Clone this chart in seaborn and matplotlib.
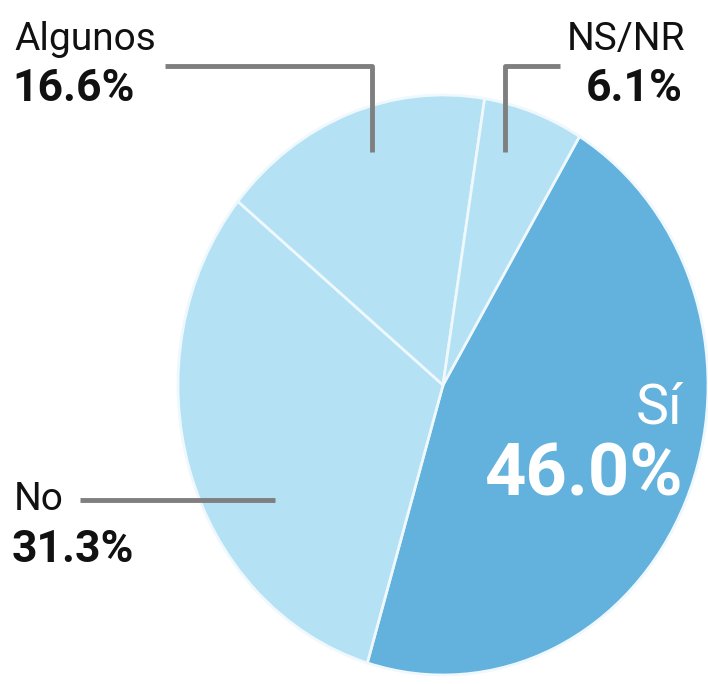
import matplotlib
matplotlib.use("Agg")
import matplotlib.pyplot as plt
import seaborn as sns

categories = ["Sí", "No", "Algunos", "NS/NR"]
values     = [46.0, 31.3, 16.6, 6.1]
colors     = ["#63b1dd", "#b4e1f4", "#b4e1f4", "#b4e1f4"]

sns.set_theme(style="white")
plt.rcParams["font.family"] = ["Roboto", "DejaVu Sans"]

W, H = 708, 684
fig = plt.figure(figsize=(W / 100, H / 100), dpi=100)

# pie area (slightly stretched vertically like the original)
ax = fig.add_axes([178 / W, (H - 675) / H, 530 / W, 580 / H])
ax.pie(values, colors=colors, startangle=59, counterclock=False,
       wedgeprops=dict(edgecolor="#eef8fd", linewidth=2))
ax.set_aspect("auto")
ax.set_xlim(-1, 1)
ax.set_ylim(-1, 1)
ax.axis("off")

# overlay in pixel coords for labels / leader lines
ov = fig.add_axes([0, 0, 1, 1], facecolor="none")
ov.set_xlim(0, W)
ov.set_ylim(H, 0)
ov.axis("off")

line_kw = dict(color="#7f7f7f", lw=3.5, solid_capstyle="butt")
ov.plot([165, 372, 372], [66, 66, 152], **line_kw)
ov.plot([560, 505, 505], [66, 66, 152], **line_kw)
ov.plot([80, 275], [500, 500], **line_kw)

txt = dict(color="#111111", fontsize=28)
bold = dict(color="#111111", fontsize=32, fontweight="bold")
ov.text(14, 50, "Algunos", ha="left", va="baseline", **txt)
ov.text(12, 101, "16.6%", ha="left", va="baseline", **bold)
ov.text(685, 50, "NS/NR", ha="right", va="baseline", **txt)
ov.text(683, 101, "6.1%", ha="right", va="baseline", **bold)
ov.text(14, 510, "No", ha="left", va="baseline", **txt)
ov.text(12, 562, "31.3%", ha="left", va="baseline", **bold)
ov.text(683, 424, "Sí", ha="right", va="baseline", color="white", fontsize=40)
ov.text(683, 496, "46.0%", ha="right", va="baseline", color="white",
        fontsize=52, fontweight="bold")

fig.savefig("out.png", dpi=100, facecolor="white")
